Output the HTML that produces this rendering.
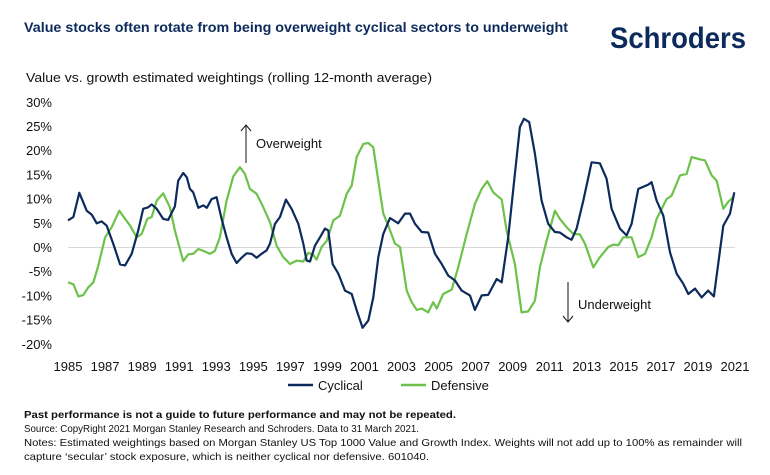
<!DOCTYPE html>
<html><head><meta charset="utf-8"><style>
html,body{margin:0;padding:0;background:#fff;}
svg{display:block;font-family:"Liberation Sans",sans-serif;}
</style></head><body>
<svg id="chart" width="770" height="475" viewBox="0 0 770 475">
<text x="24" y="32" font-size="14" font-weight="bold" fill="#0c2a5b" textLength="544" lengthAdjust="spacingAndGlyphs">Value stocks often rotate from being overweight cyclical sectors to underweight</text>
<text x="610" y="48" font-size="30" font-weight="bold" fill="#0c2a5b" textLength="136" lengthAdjust="spacingAndGlyphs">Schroders</text>
<text x="26" y="82" font-size="13" fill="#111" textLength="406" lengthAdjust="spacingAndGlyphs">Value vs. growth estimated weightings (rolling 12-month average)</text>
<g id="yaxis"></g>
<g id="xaxis"></g>
<g id="series"></g>
<g>
<line x1="246" y1="163" x2="246" y2="126" stroke="#111" stroke-width="1"/>
<polyline points="241,131 246,125 251,131" fill="none" stroke="#111" stroke-width="1"/>
<text x="256" y="148" font-size="13" fill="#111">Overweight</text>
</g>
<g>
<line x1="568" y1="282" x2="568" y2="321" stroke="#111" stroke-width="1"/>
<polyline points="563,316 568,322 573,316" fill="none" stroke="#111" stroke-width="1"/>
<text x="578" y="309" font-size="13" fill="#111">Underweight</text>
</g>
<g>
<g>
<line x1="288" y1="385" x2="313" y2="385" stroke="#0c2a5b" stroke-width="2.5"/>
<text x="318" y="390" font-size="13" fill="#111">Cyclical</text>
</g>
<g>
<line x1="401" y1="385" x2="426" y2="385" stroke="#6cc24a" stroke-width="2.5"/>
<text x="431" y="390" font-size="13" fill="#111">Defensive</text>
</g>
</g>
<g font-size="10.5" fill="#111">
<text x="24" y="418" font-weight="bold" textLength="432" lengthAdjust="spacingAndGlyphs">Past performance is not a guide to future performance and may not be repeated.</text>
<text x="24" y="432" textLength="395" lengthAdjust="spacingAndGlyphs">Source: CopyRight 2021 Morgan Stanley Research and Schroders. Data to 31 March 2021.</text>
<text x="24" y="446" textLength="718" lengthAdjust="spacingAndGlyphs">Notes: Estimated weightings based on Morgan Stanley US Top 1000 Value and Growth Index. Weights will not add up to 100% as remainder will</text>
<text x="24" y="460" textLength="405" lengthAdjust="spacingAndGlyphs">capture ‘secular’ stock exposure, which is neither cyclical nor defensive. 601040.</text>
</g>
</svg>
<script>
const yTicks = [30,25,20,15,10,5,0,-5,-10,-15,-20];
const xTicks = [1985,1987,1989,1991,1993,1995,1997,1999,2001,2003,2005,2007,2009,2011,2013,2015,2017,2019,2021];
const cycYears = [1985.0,1985.29,1985.61,1986.01,1986.28,1986.55,1986.82,1987.09,1987.44,1987.81,1988.08,1988.44,1988.79,1989.06,1989.33,1989.52,1989.79,1990.14,1990.41,1990.77,1990.95,1991.22,1991.41,1991.58,1991.76,1992.03,1992.30,1992.49,1992.75,1993.02,1993.29,1993.56,1993.83,1994.10,1994.37,1994.64,1994.91,1995.18,1995.45,1995.72,1995.90,1996.17,1996.44,1996.76,1997.07,1997.43,1997.70,1997.88,1998.06,1998.33,1998.60,1998.87,1999.05,1999.28,1999.59,1999.95,2000.31,2000.58,2000.90,2001.21,2001.48,2001.75,2002.02,2002.38,2002.82,2003.19,2003.46,2003.73,2004.09,2004.44,2004.81,2005.17,2005.52,2005.88,2006.25,2006.69,2006.96,2007.33,2007.68,2008.14,2008.41,2008.76,2009.12,2009.39,2009.61,2009.89,2010.20,2010.56,2010.92,2011.28,2011.55,2011.91,2012.18,2012.45,2012.81,2013.26,2013.71,2014.07,2014.34,2014.79,2015.15,2015.42,2015.78,2016.32,2016.50,2016.77,2017.13,2017.49,2017.85,2018.21,2018.48,2018.84,2019.20,2019.55,2019.86,2020.19,2020.37,2020.73,2020.96];
const cycValues = [5.6,6.3,11.3,7.6,6.8,5.0,5.4,4.5,0.8,-3.5,-3.7,-1.3,3.5,8.0,8.3,8.9,8.0,5.9,5.7,8.5,13.8,15.4,14.5,12.1,11.4,8.2,8.7,8.2,10.0,10.4,5.9,2.1,-1.3,-3.2,-2.1,-1.2,-1.3,-2.1,-1.3,-0.6,0.8,4.9,6.3,9.9,8.0,4.9,0.8,-2.7,-2.9,0.4,2.1,3.9,3.5,-3.4,-5.4,-8.9,-9.6,-13.0,-16.6,-15.1,-10.3,-2.0,2.8,6.1,5.0,7.0,7.0,4.9,3.2,3.1,-1.3,-3.4,-5.8,-6.8,-8.9,-9.9,-12.9,-9.9,-9.8,-6.5,-7.2,2.1,15.2,24.9,26.6,25.9,19.4,9.7,4.9,3.2,3.1,2.1,1.6,3.9,9.7,17.6,17.4,14.2,8.0,3.9,2.5,4.9,12.1,13.0,13.5,9.7,6.6,-1.0,-5.4,-7.5,-9.6,-8.5,-10.3,-8.9,-10.1,-0.6,4.5,7.0,11.4];
const defYears = [1985.0,1985.29,1985.56,1985.83,1986.10,1986.37,1986.64,1987.00,1987.36,1987.77,1988.08,1988.35,1988.71,1988.98,1989.28,1989.52,1989.79,1990.14,1990.50,1990.77,1991.22,1991.49,1991.76,1992.03,1992.30,1992.66,1992.93,1993.20,1993.56,1993.92,1994.28,1994.55,1994.82,1995.18,1995.54,1995.90,1996.26,1996.62,1996.98,1997.34,1997.70,1997.97,1998.24,1998.42,1998.69,1998.96,1999.32,1999.68,2000.04,2000.31,2000.58,2000.94,2001.21,2001.48,2001.75,2002.02,2002.29,2002.65,2002.92,2003.28,2003.55,2003.82,2004.09,2004.44,2004.71,2004.90,2005.25,2005.71,2006.06,2006.52,2006.96,2007.33,2007.63,2007.95,2008.41,2008.67,2009.12,2009.48,2009.84,2010.20,2010.47,2010.83,2011.28,2011.55,2011.91,2012.27,2012.63,2012.90,2013.35,2013.71,2014.16,2014.43,2014.70,2014.97,2015.42,2015.78,2016.14,2016.50,2016.77,2017.31,2017.58,2018.03,2018.39,2018.66,2019.02,2019.38,2019.74,2020.01,2020.37,2020.63,2020.90];
const defValues = [-7.2,-7.6,-10.1,-9.8,-8.2,-7.2,-3.7,2.1,4.2,7.6,5.9,4.5,2.1,2.8,5.9,6.3,9.7,11.2,8.3,3.5,-2.8,-1.4,-1.3,-0.3,-0.7,-1.3,-0.7,2.1,9.7,14.7,16.6,15.2,12.1,11.1,8.3,5.2,0.4,-2.0,-3.4,-2.7,-2.9,-1.1,-1.5,-2.5,0.1,1.3,5.6,6.6,11.1,12.8,18.7,21.4,21.6,20.7,13.8,7.0,4.5,0.8,0.1,-8.9,-11.3,-12.9,-12.6,-13.4,-11.3,-12.6,-9.6,-8.7,-4.1,2.8,9.0,12.1,13.7,11.4,9.9,3.5,-3.4,-13.4,-13.2,-11.0,-4.1,1.4,7.6,5.9,4.2,2.8,2.7,0.8,-4.1,-2.0,0.1,0.6,0.5,2.1,2.1,-2.0,-1.3,2.1,5.9,10.0,10.7,14.9,15.2,18.7,18.3,18.0,14.9,13.8,8.0,9.4,10.4];

const NS = 'http://www.w3.org/2000/svg';
const x0 = 68, x1 = 735, yZero = 247.5, pxPerPct = 4.84;
function xScale(yr){ return x0 + (yr - 1985) * (x1 - x0) / 36; }
function yScale(v){ return yZero - v * pxPerPct; }

const yaxis = document.getElementById('yaxis');
yTicks.forEach(t => {
  const tx = document.createElementNS(NS, 'text');
  tx.setAttribute('x', 52);
  tx.setAttribute('y', yScale(t) + 4.5);
  tx.setAttribute('text-anchor', 'end');
  tx.setAttribute('font-size', '13');
  tx.setAttribute('fill', '#111');
  tx.textContent = t + '%';
  
  
  yaxis.appendChild(tx);
});
const zl = document.createElementNS(NS, 'line');
zl.setAttribute('x1', x0); zl.setAttribute('x2', x1);
zl.setAttribute('y1', yScale(0)); zl.setAttribute('y2', yScale(0));
zl.setAttribute('stroke', '#d9d9d9'); zl.setAttribute('stroke-width', '1');


yaxis.appendChild(zl);

const xaxis = document.getElementById('xaxis');
xTicks.forEach(t => {
  const tx = document.createElementNS(NS, 'text');
  tx.setAttribute('x', xScale(t));
  tx.setAttribute('y', 371);
  tx.setAttribute('text-anchor', 'middle');
  tx.setAttribute('font-size', '13');
  tx.setAttribute('fill', '#111');
  tx.textContent = t;
  
  
  xaxis.appendChild(tx);
});

function drawLine(years, vals, color, name){
  const p = document.createElementNS(NS, 'polyline');
  p.setAttribute('points', years.map((y,i) => xScale(y).toFixed(1) + ',' + yScale(vals[i]).toFixed(1)).join(' '));
  p.setAttribute('fill', 'none');
  p.setAttribute('stroke', color);
  p.setAttribute('stroke-width', '2.2');
  p.setAttribute('stroke-linejoin', 'round');
  
  
  document.getElementById('series').appendChild(p);
}
drawLine(defYears, defValues, '#6cc24a', 'defensive-line');
drawLine(cycYears, cycValues, '#0c2a5b', 'cyclical-line');
</script>
</body></html>
